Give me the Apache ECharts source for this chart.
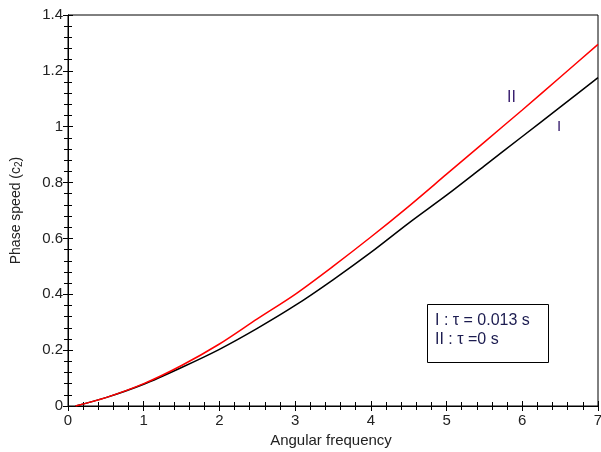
<!DOCTYPE html>
<html><head><meta charset="utf-8">
<script src="https://cdn.jsdelivr.net/npm/echarts@6/dist/echarts.min.js"></script>
<style>html,body{margin:0;padding:0;background:#fff}#c{width:601px;height:452px}</style>
</head><body><div id="c"></div>
<script>
var freqI = [0.1, 0.5, 1.0, 1.5, 2.0, 2.5, 3.0, 3.5, 4.0, 4.5, 5.0, 5.5, 6.0, 6.5, 7.0];
var speedI = [0.0, 0.03, 0.078, 0.138, 0.203, 0.278, 0.36, 0.452, 0.55, 0.655, 0.755, 0.86, 0.965, 1.07, 1.176];
var freqII = [0.1, 0.5, 1.0, 1.5, 2.0, 2.5, 3.0, 3.5, 4.0, 4.5, 5.0, 5.5, 6.0, 6.5, 7.0];
var speedII = [0.0, 0.03, 0.08, 0.145, 0.222, 0.312, 0.40, 0.50, 0.605, 0.715, 0.83, 0.945, 1.06, 1.177, 1.295];
var xTicks = [0, 1, 2, 3, 4, 5, 6, 7];
var yTicks = [0, 0.2, 0.4, 0.6, 0.8, 1, 1.2, 1.4];

function pairs(xs, ys) { return xs.map(function (x, i) { return [x, ys[i]]; }); }

var chart = echarts.init(document.getElementById('c'));
var font = 'Liberation Sans, Arial, sans-serif';
var hidden = {show: false};
var tick = {inside: true, length: 5, lineStyle: {color: '#000'}};
var minor = {show: true, splitNumber: 5, length: 4, lineStyle: {color: '#000'}};
chart.setOption({
  animation: false,
  grid: {left: 68, right: 3, top: 15, bottom: 46, show: true, borderColor: '#000', borderWidth: 1, outerBoundsMode: 'none', containLabel: false},
  xAxis: [{
    type: 'value', min: xTicks[0], max: xTicks[xTicks.length - 1], interval: 1,
    name: 'Angular frequency', nameLocation: 'middle', nameGap: 27,
    nameTextStyle: {fontFamily: font, fontSize: 15, color: '#222', padding: [0, 4, 0, 0]},
    axisLine: {lineStyle: {color: '#000'}},
    axisTick: tick, minorTick: minor,
    axisLabel: {fontFamily: font, fontSize: 15, color: '#222', margin: 7},
    splitLine: hidden
  }, {
    type: 'value', position: 'top', min: 0, max: 7, interval: 1,
    axisLine: {lineStyle: {color: '#000'}},
    axisTick: tick, minorTick: minor,
    axisLabel: hidden, splitLine: hidden
  }],
  yAxis: [{
    type: 'value', min: yTicks[0], max: yTicks[yTicks.length - 1], interval: 0.2,
    name: 'Phase speed (c{sub|2})', nameLocation: 'middle', nameGap: 44, nameRotate: 90,
    nameTextStyle: {fontFamily: font, fontSize: 14, color: '#222',
      rich: {sub: {fontFamily: font, fontSize: 10, color: '#222', verticalAlign: 'bottom', padding: [6, 0, 0, 0]}}},
    axisLine: {lineStyle: {color: '#000'}},
    axisTick: tick, minorTick: minor,
    axisLabel: {fontFamily: font, fontSize: 15, color: '#222', margin: 5},
    splitLine: hidden
  }, {
    type: 'value', position: 'right', min: 0, max: 1.4, interval: 0.2,
    axisLine: {lineStyle: {color: '#000'}},
    axisTick: tick, minorTick: minor,
    axisLabel: hidden, splitLine: hidden
  }],
  series: [{
    name: 'I', type: 'line', data: pairs(freqI, speedI), smooth: 0.3, showSymbol: false,
    lineStyle: {color: '#000', width: 1.5}, z: 3
  }, {
    name: 'II', type: 'line', data: pairs(freqII, speedII), smooth: 0.3, showSymbol: false,
    lineStyle: {color: '#ff0000', width: 1.5}, z: 4
  }],
  graphic: [
    {type: 'rect', shape: {x: 427.5, y: 304.5, width: 121, height: 58}, style: {fill: '#fff', stroke: '#000', lineWidth: 1}, z: 10},
    {type: 'text', x: 435, y: 321, style: {text: 'I : \u03c4 = 0.013 s', fontFamily: font, fontSize: 16, fill: '#1c1c50', textVerticalAlign: 'middle'}, z: 11},
    {type: 'text', x: 435, y: 340, style: {text: 'II : \u03c4 =0 s', fontFamily: font, fontSize: 16, fill: '#1c1c50', textVerticalAlign: 'middle'}, z: 11},
    {type: 'text', x: 507, y: 98, style: {text: 'II', fontFamily: font, fontSize: 16, fill: '#3a2070', textVerticalAlign: 'middle'}, z: 11},
    {type: 'text', x: 557, y: 127, style: {text: 'I', fontFamily: font, fontSize: 15, fill: '#3a2070', textVerticalAlign: 'middle'}, z: 11}
  ]
});
</script></body></html>
